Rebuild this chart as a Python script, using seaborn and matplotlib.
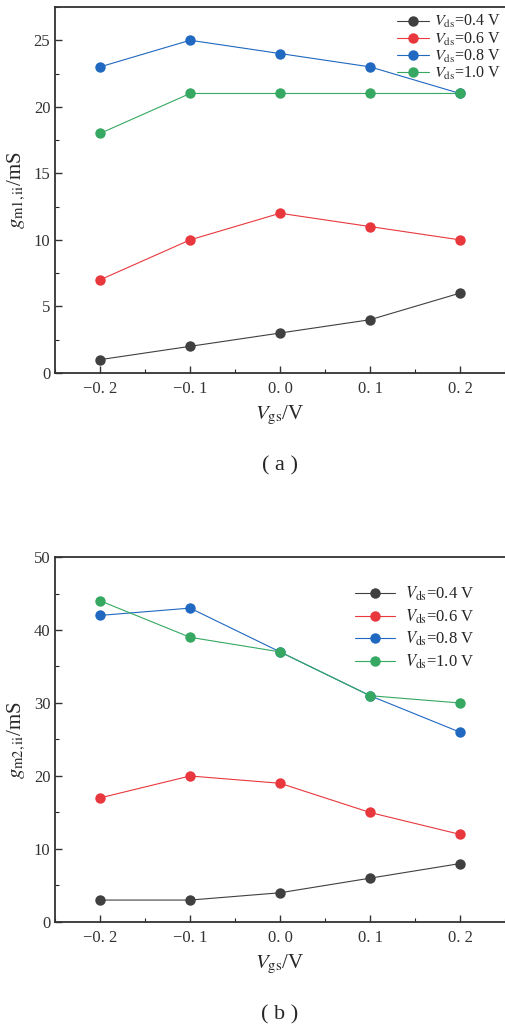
import pandas as pd
import matplotlib.pyplot as plt
import seaborn as sns
from matplotlib.ticker import MultipleLocator

vgs = [-0.2, -0.1, 0.0, 0.1, 0.2]
vds_labels = ["$V_{\\mathrm{ds}}$=0.4 V", "$V_{\\mathrm{ds}}$=0.6 V",
              "$V_{\\mathrm{ds}}$=0.8 V", "$V_{\\mathrm{ds}}$=1.0 V"]
colors = ["#404040", "#e8383d", "#2068c0", "#36a862"]

# (a) g_m1,ii
gm1_04 = [1, 2, 3, 4, 6]
gm1_06 = [7, 10, 12, 11, 10]
gm1_08 = [23, 25, 24, 23, 21]
gm1_10 = [18, 21, 21, 21, 21]

# (b) g_m2,ii
gm2_04 = [3, 3, 4, 6, 8]
gm2_06 = [17, 20, 19, 15, 12]
gm2_08 = [42, 43, 37, 31, 26]
gm2_10 = [44, 39, 37, 31, 30]

x_ticks = [-0.2, -0.1, 0.0, 0.1, 0.2]
x_ticklabels = ["\u22120. 2", "\u22120. 1", "0. 0", "0. 1", "0. 2"]

sns.set_style("ticks")
plt.rcParams['font.family'] = ['Liberation Serif', 'DejaVu Serif']
plt.rcParams['mathtext.fontset'] = 'stix'
plt.rcParams['xtick.direction'] = 'in'
plt.rcParams['ytick.direction'] = 'in'


def long_df(series):
    rows = []
    for lab, vals in zip(vds_labels, series):
        for x, v in zip(vgs, vals):
            rows.append({"Vgs": x, "gm": v, "Vds": lab})
    return pd.DataFrame(rows)


fig = plt.figure(figsize=(5.06, 10.26), dpi=100)
ax1 = fig.add_axes([0.109, 0.6365, 0.889, 0.3567])
ax2 = fig.add_axes([0.109, 0.1014, 0.889, 0.3557])

panels = [
    (ax1, [gm1_04, gm1_06, gm1_08, gm1_10], 27.5, 5, 2.5, "$g_{\\mathrm{m1,ii}}$/mS", "( a )"),
    (ax2, [gm2_04, gm2_06, gm2_08, gm2_10], 50, 10, 5, "$g_{\\mathrm{m2,ii}}$/mS", "( b )"),
]

for ax, series, ytop, ymaj, ymin, ylab, cap in panels:
    df = long_df(series)
    sns.lineplot(data=df, x="Vgs", y="gm", hue="Vds", palette=colors, ax=ax,
                 marker="o", markersize=7.5, markeredgewidth=0, linewidth=0.8)
    ax.set_xlim(-0.25, 0.25)
    ax.set_ylim(0, ytop)
    ax.set_xticks(x_ticks)
    ax.set_xticklabels(x_ticklabels)
    ax.xaxis.set_minor_locator(MultipleLocator(0.05))
    ax.yaxis.set_major_locator(MultipleLocator(ymaj))
    ax.yaxis.set_minor_locator(MultipleLocator(ymin))
    ax.tick_params(which='major', length=5, width=1, labelsize=12, colors='#333333')
    ax.tick_params(which='minor', length=3, width=0.8)
    ax.tick_params(axis='x', pad=6)
    for s in ['left', 'bottom', 'top']:
        ax.spines[s].set_color('#333333')
        ax.spines[s].set_linewidth(1.3)
    ax.spines['right'].set_visible(False)
    ax.set_ylabel(ylab, fontsize=15, labelpad=4)
    ax.set_xlabel("$V_{\\mathrm{gs}}$/V", fontsize=15, labelpad=5)
    ax.text(0.5, -0.255, cap, transform=ax.transAxes, ha='center', va='center',
            fontsize=16)

leg1 = ax1.legend(loc='upper right', bbox_to_anchor=(1.005, 1.0), frameon=False,
                  fontsize=11.5, handlelength=2.0, handletextpad=0.3,
                  labelspacing=0.0, borderaxespad=0.2, borderpad=0.2)
leg2 = ax2.legend(loc='upper right', bbox_to_anchor=(0.965, 0.965), frameon=False,
                  fontsize=12, handlelength=2.4, handletextpad=0.6,
                  labelspacing=0.25)

plt.savefig("out.png", dpi=100)
